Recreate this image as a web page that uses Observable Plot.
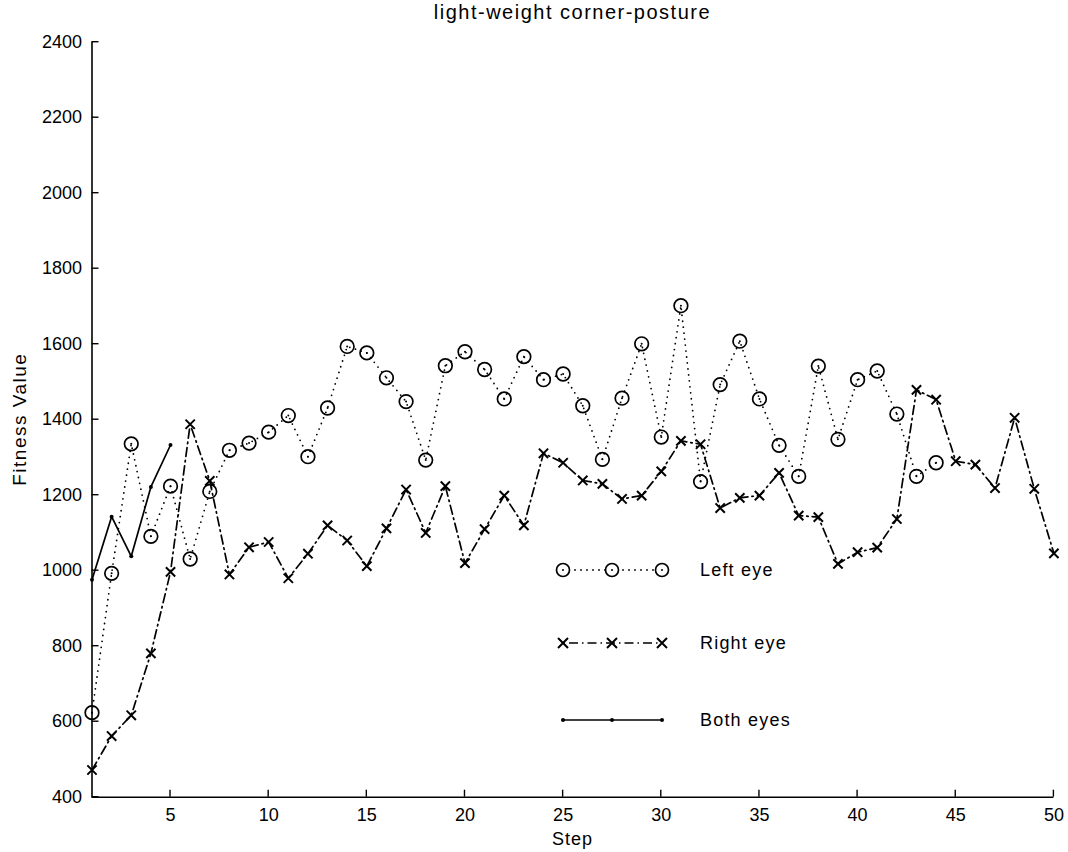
<!DOCTYPE html>
<html>
<head>
<meta charset="utf-8">
<script src="https://cdn.jsdelivr.net/npm/d3@7"></script>
<script src="https://cdn.jsdelivr.net/npm/@observablehq/plot@0.6"></script>
<style>
  html, body { margin: 0; padding: 0; background: #fff; }
  #chart { width: 1068px; height: 852px; }
</style>
</head>
<body>
<div id="chart"></div>
<script>
// ---- data ----
const title = "light-weight corner-posture";
const xLabel = "Step";
const yLabel = "Fitness Value";

const leftEye = [624, 993, 1336, 1091, 1224, 1031, 1210, 1319, 1338, 1367,
                 1411, 1302, 1431, 1594, 1577, 1511, 1448, 1293, 1543, 1580,
                 1533, 1455, 1567, 1506, 1521, 1437, 1295, 1457, 1601, 1354,
                 1702, 1236, 1493, 1608, 1455, 1332, 1250, 1542, 1348, 1506,
                 1529, 1415, 1250, 1286];
const rightEye = [472, 562, 617, 781, 997, 1388, 1238, 990, 1062, 1076,
                  980, 1045, 1120, 1080, 1012, 1112, 1215, 1100, 1224, 1020,
                  1110, 1199, 1120, 1311, 1286, 1239, 1230, 1190, 1199, 1263,
                  1344, 1335, 1166, 1193, 1199, 1259, 1146, 1142, 1018, 1049,
                  1061, 1137, 1479, 1453, 1290, 1281, 1219, 1405, 1217, 1046];
const bothEyes = [976, 1143, 1038, 1222, 1333];

const xTicks = [5, 10, 15, 20, 25, 30, 35, 40, 45, 50];
const yTicks = [400, 600, 800, 1000, 1200, 1400, 1600, 1800, 2000, 2200, 2400];
const legendLabels = ["Left eye", "Right eye", "Both eyes"];

const toRows = (arr) => arr.map((v, i) => ({step: i + 1, value: v}));
const leftRows = toRows(leftEye);
const rightRows = toRows(rightEye);
const bothRows = toRows(bothEyes);

const FONT = "'Liberation Sans', Arial, Helvetica, sans-serif";

const plot = Plot.plot({
  width: 1068,
  height: 852,
  marginLeft: 91.5,
  marginRight: 14.6,
  marginTop: 41.7,
  marginBottom: 55.3,
  style: {fontFamily: FONT, fontSize: "18px", color: "#000", background: "#fff"},
  x: {domain: [1, 50], label: null},
  y: {domain: [400, 2400], label: null},
  marks: [
    Plot.axisX(xTicks, {tickSize: 0, tickPadding: 11, fontSize: 18, label: null, fill: "#000",
      tickFormat: d3.format("d"), style: {letterSpacing: "1.3px"}}),
    Plot.axisY(yTicks, {tickSize: 0, tickPadding: 10, fontSize: 18, label: null, fill: "#000",
      tickFormat: d3.format("d"), style: {letterSpacing: "1.6px"}}),
    Plot.ruleY([400], {stroke: "#000", strokeWidth: 1.6}),
    Plot.ruleX([1], {stroke: "#000", strokeWidth: 1.6}),
    // Left eye: dotted line with circles
    Plot.line(leftRows, {x: "step", y: "value", stroke: "#000", strokeWidth: 1.8,
      strokeDasharray: "0,6", strokeLinecap: "round"}),
    Plot.dot(leftRows, {x: "step", y: "value", r: 6.8, stroke: "#000", strokeWidth: 1.7, fill: "none"}),
    Plot.dot(leftRows, {x: "step", y: "value", r: 1, fill: "#000", stroke: "none"}),
    // Right eye: dash-dot line with crosses
    Plot.line(rightRows, {x: "step", y: "value", stroke: "#000", strokeWidth: 1.7,
      strokeDasharray: "9,4,1.5,4"}),
    Plot.dot(rightRows, {x: "step", y: "value", symbol: "times", r: 4.3, stroke: "#000", strokeWidth: 2}),
    // Both eyes: solid line with point markers
    Plot.line(bothRows, {x: "step", y: "value", stroke: "#000", strokeWidth: 1.7}),
    Plot.dot(bothRows, {x: "step", y: "value", r: 2, fill: "#000", stroke: "none"})
  ]
});

const sx = plot.scale("x"), sy = plot.scale("y");
const svg = d3.select(plot);
const g = svg.append("g").attr("fill", "#000").attr("stroke", "none")
  .style("font-family", FONT).style("font-size", "18px");

// inward tick marks
const x0 = sx.apply(1), y0 = sy.apply(400);
xTicks.forEach(t => {
  g.append("line").attr("x1", sx.apply(t)).attr("x2", sx.apply(t))
    .attr("y1", y0).attr("y2", y0 - 7).attr("stroke", "#000").attr("stroke-width", 1.4);
});
yTicks.forEach(t => {
  g.append("line").attr("x1", x0).attr("x2", x0 + 7)
    .attr("y1", sy.apply(t)).attr("y2", sy.apply(t)).attr("stroke", "#000").attr("stroke-width", 1.4);
});

// title and axis labels
const xMid = (sx.apply(1) + sx.apply(50)) / 2;
const yMid = (sy.apply(400) + sy.apply(2400)) / 2;
g.append("text").attr("x", xMid).attr("y", 19).attr("text-anchor", "middle")
  .attr("font-size", 20).style("letter-spacing", "1.5px").text(title);
g.append("text").attr("x", xMid).attr("y", 845).attr("text-anchor", "middle")
  .attr("font-size", 18).style("letter-spacing", "1px").text(xLabel);
g.append("text").attr("transform", `translate(26,${yMid}) rotate(-90)`).attr("text-anchor", "middle")
  .attr("font-size", 19).style("letter-spacing", "1.5px").text(yLabel);

// legend (inside the axes, MATLAB style)
const lg = g.append("g");
const lx = [563, 612, 662];
const rows = [570, 643, 720];
// Left eye
lg.append("line").attr("x1", lx[0]).attr("x2", lx[2]).attr("y1", rows[0]).attr("y2", rows[0])
  .attr("stroke", "#000").attr("stroke-width", 1.8).attr("stroke-dasharray", "0,6").attr("stroke-linecap", "round");
lx.forEach(x => {
  lg.append("circle").attr("cx", x).attr("cy", rows[0]).attr("r", 6.5)
    .attr("fill", "#fff").attr("stroke", "#000").attr("stroke-width", 1.7);
  lg.append("circle").attr("cx", x).attr("cy", rows[0]).attr("r", 1).attr("fill", "#000");
});
// Right eye
lg.append("line").attr("x1", lx[0]).attr("x2", lx[2]).attr("y1", rows[1]).attr("y2", rows[1])
  .attr("stroke", "#000").attr("stroke-width", 1.7).attr("stroke-dasharray", "9,4,1.5,4")
  .attr("stroke-dashoffset", -6);
lx.forEach(x => {
  lg.append("path").attr("d", `M${x-5},${rows[1]-5}L${x+5},${rows[1]+5}M${x-5},${rows[1]+5}L${x+5},${rows[1]-5}`)
    .attr("stroke", "#000").attr("stroke-width", 2);
});
// Both eyes
lg.append("line").attr("x1", lx[0]).attr("x2", lx[2]).attr("y1", rows[2]).attr("y2", rows[2])
  .attr("stroke", "#000").attr("stroke-width", 1.7);
lx.forEach(x => {
  lg.append("circle").attr("cx", x).attr("cy", rows[2]).attr("r", 2).attr("fill", "#000");
});
legendLabels.forEach((label, i) => {
  lg.append("text").attr("x", 700).attr("y", rows[i]).attr("dy", "0.35em")
    .attr("text-anchor", "start").attr("font-size", 18).style("letter-spacing", "1.2px").text(label);
});

document.getElementById("chart").appendChild(plot);
</script>
</body>
</html>
